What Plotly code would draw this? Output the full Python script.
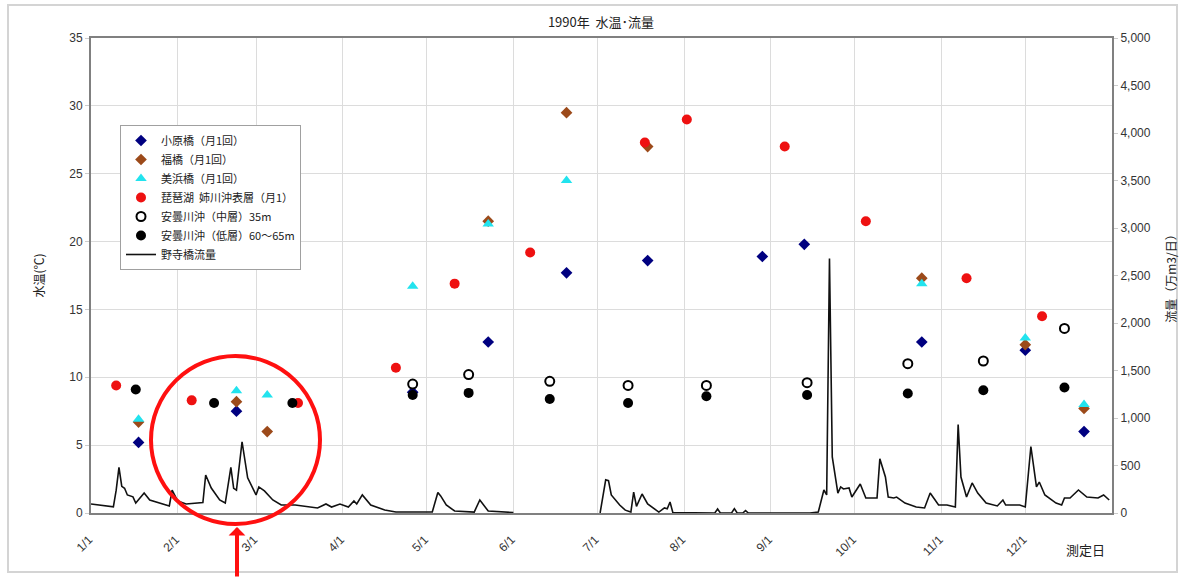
import plotly.graph_objects as go

# ---------------- data ----------------
month_ticks = ["1990-%02d-01" % m for m in range(1, 13)]
month_labels = ["%d/1" % m for m in range(1, 13)]

ohara_dates = ["1990-01-18", "1990-02-22", "1990-04-26", "1990-05-23", "1990-06-20", "1990-07-19",
               "1990-08-29", "1990-09-13", "1990-10-25", "1990-12-01", "1990-12-22"]
ohara_temp = [5.2, 7.5, 8.9, 12.6, 17.7, 18.6, 18.9, 19.8, 12.6, 12.0, 6.0]

fuku_dates = ["1990-01-18", "1990-02-22", "1990-03-05", "1990-05-23", "1990-06-20", "1990-07-19",
              "1990-10-25", "1990-12-01", "1990-12-22"]
fuku_temp = [6.7, 8.2, 6.0, 21.5, 29.5, 27.0, 17.3, 12.4, 7.7]

mihama_dates = ["1990-01-18", "1990-02-22", "1990-03-05", "1990-04-26", "1990-05-23", "1990-06-20",
                "1990-10-25", "1990-12-01", "1990-12-22"]
mihama_temp = [6.9, 9.0, 8.7, 16.7, 21.3, 24.5, 16.9, 12.9, 8.0]

biwa_dates = ["1990-01-10", "1990-02-06", "1990-03-16", "1990-04-20", "1990-05-11", "1990-06-07",
              "1990-07-18", "1990-08-02", "1990-09-06", "1990-10-05", "1990-11-10", "1990-12-07"]
biwa_temp = [9.4, 8.3, 8.1, 10.7, 16.9, 19.2, 27.3, 29.0, 27.0, 21.5, 17.3, 14.5]

ado_mid_dates = ["1990-04-26", "1990-05-16", "1990-06-14", "1990-07-12", "1990-08-09", "1990-09-14",
                 "1990-10-20", "1990-11-16", "1990-12-15"]
ado_mid_temp = [9.5, 10.2, 9.7, 9.4, 9.4, 9.6, 11.0, 11.2, 13.6]

ado_low_dates = ["1990-01-17", "1990-02-14", "1990-03-14", "1990-04-26", "1990-05-16", "1990-06-14",
                 "1990-07-12", "1990-08-09", "1990-09-14", "1990-10-20", "1990-11-16", "1990-12-15"]
ado_low_temp = [9.1, 8.1, 8.1, 8.7, 8.85, 8.4, 8.1, 8.6, 8.7, 8.8, 9.05, 9.25]

flow_dates = [
    "1990-01-01", "1990-01-06", "1990-01-09", "1990-01-10", "1990-01-11", "1990-01-12", "1990-01-13",
    "1990-01-14", "1990-01-16", "1990-01-17", "1990-01-20", "1990-01-22", "1990-01-26", "1990-01-29",
    "1990-01-30", "1990-02-01", "1990-02-04", "1990-02-09", "1990-02-10", "1990-02-11", "1990-02-13",
    "1990-02-16", "1990-02-18", "1990-02-20", "1990-02-21", "1990-02-22", "1990-02-24", "1990-02-26",
    "1990-03-01", "1990-03-02", "1990-03-04", "1990-03-07", "1990-03-10", "1990-03-15", "1990-03-23",
    "1990-03-26", "1990-03-28", "1990-03-31", "1990-04-03", "1990-04-05", "1990-04-06", "1990-04-08",
    "1990-04-11", "1990-04-16", "1990-04-20", "1990-05-03", "1990-05-05", "1990-05-06", "1990-05-08",
    "1990-05-11", "1990-05-18", "1990-05-20", "1990-05-23", "1990-06-01", "1990-06-15",
    "1990-07-02", "1990-07-04", "1990-07-05", "1990-07-06", "1990-07-09", "1990-07-11", "1990-07-13",
    "1990-07-14", "1990-07-15", "1990-07-17", "1990-07-19", "1990-07-23", "1990-07-25", "1990-07-26",
    "1990-07-27", "1990-07-28", "1990-08-12", "1990-08-13", "1990-08-14", "1990-08-18", "1990-08-19",
    "1990-08-20", "1990-08-22", "1990-08-23", "1990-08-24", "1990-09-15", "1990-09-18", "1990-09-20",
    "1990-09-21", "1990-09-22", "1990-09-23", "1990-09-25", "1990-09-26", "1990-09-27", "1990-09-29",
    "1990-09-30", "1990-10-03", "1990-10-05", "1990-10-09", "1990-10-10", "1990-10-12", "1990-10-13",
    "1990-10-15", "1990-10-16", "1990-10-19", "1990-10-23", "1990-10-26", "1990-10-28", "1990-10-29",
    "1990-10-31", "1990-11-03", "1990-11-06", "1990-11-07", "1990-11-08", "1990-11-10", "1990-11-12",
    "1990-11-14", "1990-11-17", "1990-11-21", "1990-11-23", "1990-11-24", "1990-11-29", "1990-12-01",
    "1990-12-03", "1990-12-05", "1990-12-06", "1990-12-08", "1990-12-12", "1990-12-14", "1990-12-15",
    "1990-12-17", "1990-12-20", "1990-12-23", "1990-12-27", "1990-12-29", "1990-12-31"]
flow_values = [
    95, 75, 65, 240, 480, 280, 260,
    190, 170, 105, 210, 137, 105, 74,
    240, 126, 95, 105, 110, 400, 263,
    137, 105, 480, 260, 240, 750, 370,
    190, 274, 232, 137, 84, 84, 53,
    95, 63, 95, 63, 126, 95, 190,
    84, 32, 10, 10, 215, 180, 84,
    21, 10, 137, 21, 5, None,
    0, 350, 340, 190, 84, 30, 10,
    220, 70, 200, 95, 10, 53, 45,
    116, 5, 0, 42, 0, 0, 46,
    0, 0, 25, 0, 0, 10, 242,
    190, 2680, 590, 210, 274, 253, 263,
    168, 305, 158, 158, 570, 379, 168,
    158, 168, 105, 63, 53, 210, 168,
    84, 84, 63, 930, 379, 168, 316,
    210, 105, 74, 137, 84, 84, 63,
    700, 274, 326, 190, 105, 84, 158,
    158, 242, 168, 158, 190, 137]

# ---------------- figure ----------------
W, H = 1181, 578
L, R, T, B = 91, 69, 38, 65
PW, PH = W - L - R, H - T - B


def px(x):
    return (x - L) / PW


def py(y):
    return (H - B - y) / PH


FONT = "Liberation Sans, Arial, Noto Sans CJK JP, sans-serif"
JFONT = "Noto Sans CJK JP, Liberation Sans, sans-serif"

fig = go.Figure()
fig.add_trace(go.Scatter(x=ohara_dates, y=ohara_temp, mode="markers", name="小原橋（月1回）",
                         marker=dict(symbol="diamond", size=9, color="#000080")))
fig.add_trace(go.Scatter(x=fuku_dates, y=fuku_temp, mode="markers", name="福橋（月1回）",
                         marker=dict(symbol="diamond", size=9, color="#9C4A1A")))
fig.add_trace(go.Scatter(x=mihama_dates, y=mihama_temp, mode="markers", name="美浜橋（月1回）",
                         marker=dict(symbol="triangle-up", size=10, color="#22E3EE")))
fig.add_trace(go.Scatter(x=biwa_dates, y=biwa_temp, mode="markers", name="琵琶湖  姉川沖表層（月1）",
                         marker=dict(symbol="circle", size=10, color="#EE1111")))
fig.add_trace(go.Scatter(x=ado_mid_dates, y=ado_mid_temp, mode="markers", name="安曇川沖（中層）35m",
                         marker=dict(symbol="circle", size=9, color="white",
                                     line=dict(color="black", width=2))))
fig.add_trace(go.Scatter(x=ado_low_dates, y=ado_low_temp, mode="markers", name="安曇川沖（低層）60～65m",
                         marker=dict(symbol="circle", size=10, color="black")))
fig.add_trace(go.Scatter(x=flow_dates, y=flow_values, mode="lines", name="野寺橋流量", yaxis="y2",
                         line=dict(color="#111111", width=1.6), connectgaps=False))

fig.update_layout(
    width=W, height=H,
    margin=dict(l=L, r=R, t=T, b=B, autoexpand=False),
    paper_bgcolor="white", plot_bgcolor="white",
    font=dict(family=FONT, size=12, color="#333333"),
    title=dict(text="1990年  水温･流量", x=px(601), xref="paper", xanchor="center",
               y=1 - 22 / H, yref="container", yanchor="middle",
               font=dict(family=JFONT, size=13, color="#222222")),
    xaxis=dict(type="date", range=["1990-01-01", "1991-01-01"], automargin=False,
               tickmode="array", tickvals=month_ticks, ticktext=month_labels,
               tickangle=-45, showgrid=True, gridcolor="#dcdcdc", gridwidth=1,
               showline=True, linecolor="#808080", linewidth=2, mirror=True,
               ticks="", zeroline=False, ticklabelstandoff=13, ticklabelshift=-2,
               tickfont=dict(size=12, color="#333333")),
    yaxis=dict(range=[0, 35], dtick=5, showgrid=True, gridcolor="#dcdcdc", automargin=False,
               showline=True, linecolor="#808080", linewidth=2, zeroline=False,
               ticks="outside", ticklen=4, tickcolor="#cccccc",
               title=dict(text="水温(℃)", standoff=22, font=dict(family=JFONT, size=12, color="#222222"))),
    yaxis2=dict(range=[0, 5000], dtick=500, tickformat=",", overlaying="y", side="right",
                automargin=False,
                showgrid=False, showline=True, linecolor="#808080", linewidth=2, zeroline=False,
                ticks="outside", ticklen=4, tickcolor="#cccccc",
                title=dict(text="流量（万m3/日）", standoff=18, font=dict(family=JFONT, size=12, color="#222222"))),
    legend=dict(x=px(120), y=py(125), xanchor="left", yanchor="top",
                bgcolor="white", bordercolor="#a0a0a0", borderwidth=1,
                font=dict(family=JFONT, size=11, color="#222222"), tracegroupgap=0,
                itemwidth=30),
    showlegend=True,
)

# x axis title as text at lower right
fig.add_annotation(text="測定日", xref="paper", yref="paper", x=px(1085), y=py(549),
                   xanchor="center", yanchor="middle",
                   showarrow=False, font=dict(family=JFONT, size=13, color="#222222"))

# outer chart frame
fig.add_shape(type="rect", xref="paper", yref="paper", x0=px(8), x1=px(1177), y0=py(572), y1=py(5),
              line=dict(color="#d4d4d4", width=2), layer="below")

# red highlight circle and arrow
fig.add_shape(type="circle", xref="paper", yref="paper", x0=px(151), x1=px(320), y0=py(524), y1=py(356),
              line=dict(color="#FF1010", width=4))
fig.add_annotation(text="", xref="paper", yref="paper", x=px(237), y=py(527), ax=0, ay=60,
                   showarrow=True, arrowhead=1, arrowsize=0.7, arrowwidth=4, arrowcolor="#FF1010",
                   standoff=0)

fig.write_html("out.html", config={"displayModeBar": False},
               post_script="document.body.style.margin='0';document.body.style.overflow='hidden';")
